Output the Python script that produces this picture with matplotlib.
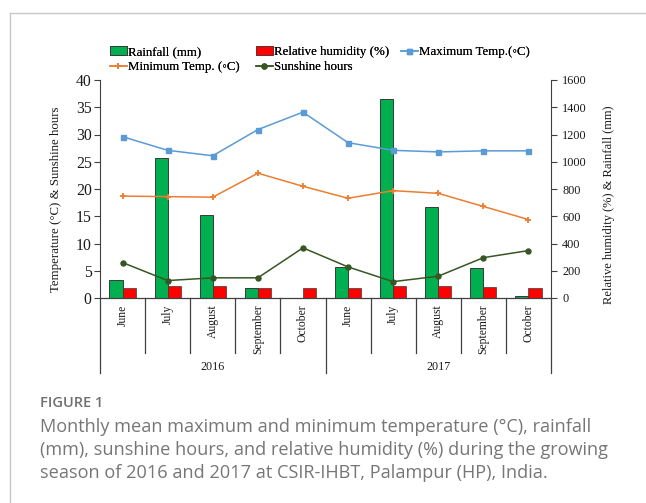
#!/usr/bin/env python3
"""Monthly weather summary for the 2016 and 2017 growing seasons."""
import matplotlib
matplotlib.use("Agg")
import matplotlib.pyplot as plt
import matplotlib.transforms as mtransforms
from matplotlib.lines import Line2D
from matplotlib.patches import Patch
import numpy as np

MONTHS = ["June", "July", "August", "September", "October"] * 2
YEARS = ["2016", "2017"]

# Left axis (degC / hours)
MAX_TEMP = [29.6, 27.1, 26.1, 30.9, 34.1, 28.5, 27.1, 26.8, 27.0, 27.0]
MIN_TEMP = [18.7, 18.6, 18.5, 22.9, 20.5, 18.3, 19.7, 19.2, 16.8, 14.4]
SUNSHINE = [6.5, 3.2, 3.7, 3.7, 9.2, 5.7, 3.0, 4.0, 7.4, 8.7]

# Right axis (mm / %)
RAINFALL = [130, 1025, 610, 76, 0, 228, 1462, 668, 222, 15]
REL_HUMIDITY = [75, 89, 89, 76, 76, 70, 89, 89, 82, 72]

SERIF = ["Liberation Serif", "DejaVu Serif"]
plt.rcParams["font.family"] = SERIF
TEXT = "#1a1a1a"
AXIS = "#404040"
GREEN, RED = "#00B050", "#FF0000"
BLUE, ORANGE, DKGREEN = "#5B9BD5", "#ED7D31", "#375623"

W, H = 646, 503
fig = plt.figure(figsize=(W / 100, H / 100), dpi=100)
ax = fig.add_axes([100 / W, 1 - 298 / H, 451 / W, 218 / H])
ax2 = ax.twinx()
ax.set_zorder(ax2.get_zorder() + 1)
ax.patch.set_visible(False)

x = np.arange(len(MONTHS))
w = 0.29
ax2.bar(x - w / 2, RAINFALL, w, color=GREEN, edgecolor="#3a3a3a", lw=0.7)
ax2.bar(x + w / 2, REL_HUMIDITY, w, color=RED, edgecolor="#3a3a3a", lw=0.5)

line_kw = {
    "max": dict(color=BLUE, lw=1.1, marker="s", ms=3.6),
    "min": dict(color=ORANGE, lw=1.1, marker="+", ms=4.5, mew=1.3),
    "sun": dict(color=DKGREEN, lw=1.1, marker="o", ms=3.6),
}
ax.plot(x, MAX_TEMP, **line_kw["max"])
ax.plot(x, MIN_TEMP, **line_kw["min"])
ax.plot(x, SUNSHINE, **line_kw["sun"])

ax.set_xlim(-0.5, len(MONTHS) - 0.5)
ax.set_ylim(0, 40)
ax.set_yticks(np.arange(0, 41, 5))
ax2.set_ylim(0, 1600)
ax2.set_yticks(np.arange(0, 1601, 200))

for a in (ax, ax2):
    for side in ("top", "bottom", "left", "right"):
        a.spines[side].set_visible(False)
    a.tick_params(axis="x", bottom=False, labelbottom=False)
ax.spines["left"].set_visible(True)
ax.spines["left"].set_color(AXIS)
ax2.spines["right"].set_visible(True)
ax2.spines["right"].set_color(AXIS)
ax.tick_params(axis="y", length=4, width=0.8, color=AXIS, labelsize=11.3,
               labelcolor=TEXT, pad=2)
ax2.tick_params(axis="y", length=4, width=0.8, color=AXIS, labelsize=8.8,
                labelcolor=TEXT, pad=4)

ax.set_ylabel("Temperature (°C) & Sunshine hours", fontsize=9.3, color=TEXT)
ax.yaxis.set_label_coords(-0.085, 0.455)
ax2.set_ylabel("Relative humidity (%) & Rainfall (mm)", fontsize=9.0,
               color=TEXT)
ax2.yaxis.set_label_coords(1.115, 0.43)

# Two-level category axis: months, then years
trans = mtransforms.blended_transform_factory(ax.transData, ax.transAxes)
ax.plot([-0.5, len(MONTHS) - 0.5], [0, 0], transform=trans, color=AXIS,
        lw=0.9, clip_on=False)
for i in range(len(MONTHS) + 1):
    xs = i - 0.5
    bottom = -0.344 if i % 5 == 0 else -0.252
    ax.plot([xs, xs], [0, bottom], transform=trans, color=AXIS, lw=0.9,
            clip_on=False)
for i, m in enumerate(MONTHS):
    ax.text(i, -0.03, m, transform=trans, rotation=90, ha="center", va="top",
            fontsize=8.4, color=TEXT)
for j, yr in enumerate(YEARS):
    ax.text(2 + 5 * j, -0.317, yr, transform=trans, ha="center",
            va="center", fontsize=8.7, color=TEXT)


def legend_column(handles, labels, left, top):
    leg = fig.legend(handles, labels, loc="upper left",
                     bbox_to_anchor=(left / W, 1 - top / H), frameon=False,
                     fontsize=9.3, handlelength=1.3, handleheight=0.7,
                     handletextpad=0.12, labelspacing=0.25,
                     borderaxespad=0, borderpad=0)
    fig.add_artist(leg)


legend_column([Patch(facecolor=GREEN, edgecolor="#3a3a3a", lw=0.7),
               Line2D([], [], **line_kw["min"])],
              ["Rainfall (mm)", "Minimum Temp. (◦C)"], 110, 46)
legend_column([Patch(facecolor=RED, edgecolor="#3a3a3a", lw=0.5),
               Line2D([], [], **line_kw["sun"])],
              ["Relative humidity (%)", "Sunshine hours"], 256, 46)
legend_column([Line2D([], [], **line_kw["max"])],
              ["Maximum Temp.(◦C)"], 401, 46)

# Page frame and caption
frame = "#c8c8c8"
fig.add_artist(Line2D([9.5 / W, 1], [1 - 12.5 / H] * 2, color=frame,
                      lw=1.0, transform=fig.transFigure))
fig.add_artist(Line2D([9.5 / W] * 2, [0, 1 - 12.5 / H], color=frame,
                      lw=1.0, transform=fig.transFigure))

CAPTION_FONT = ["Open Sans", "DejaVu Sans"]
fig.text(40 / W, 1 - 403 / H, "FIGURE 1", fontsize=10.5,
         family=CAPTION_FONT, color="#707070", va="center",
         fontweight="semibold")
caption = [
    "Monthly mean maximum and minimum temperature (°C), rainfall",
    "(mm), sunshine hours, and relative humidity (%) during the growing",
    "season of 2016 and 2017 at CSIR-IHBT, Palampur (HP), India.",
]
for k, line in enumerate(caption):
    fig.text(40 / W, 1 - (427 + 23 * k) / H, line, fontsize=13.1,
             family=CAPTION_FONT, color="#767676", va="center")

fig.savefig("out.png", dpi=100, facecolor="white")
